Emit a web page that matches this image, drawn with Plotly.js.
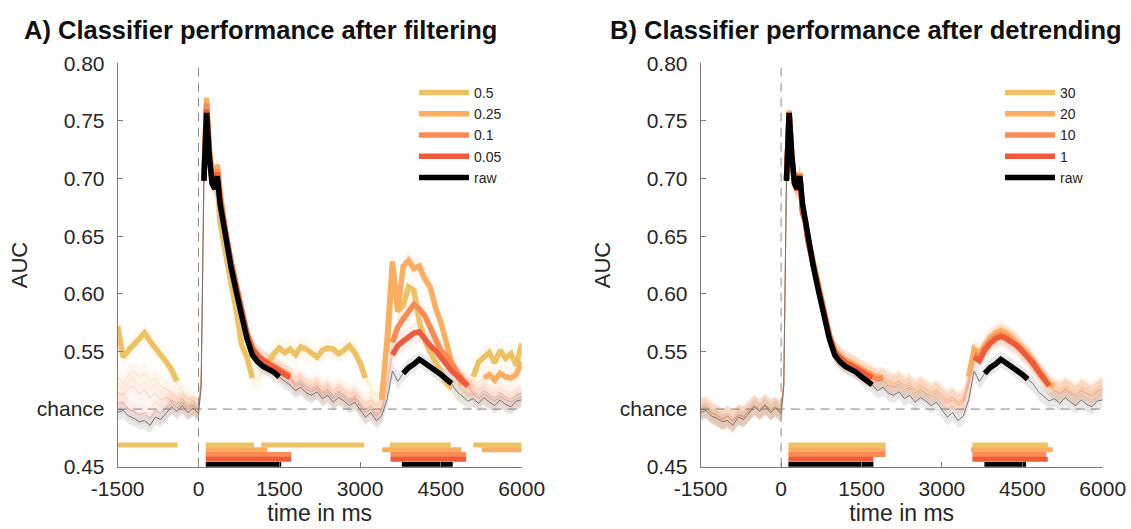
<!DOCTYPE html>
<html><head><meta charset="utf-8">
<script src="https://cdn.plot.ly/plotly-3.0.1.min.js"></script>
<style>html,body{margin:0;padding:0;background:#fff}#chart{width:1131px;height:529px}</style>
</head><body><div id="chart"></div>
<script>
// ---------- data ----------
const timeMs = [-1500,-1400,-1300,-1200,-1100,-1000,-900,-800,-700,-600,-500,-400,-300,-200,-100,0,
  50,100,150,200,250,300,350,400,450,500,
  600,700,800,900,1000,1100,1200,1300,1400,1500,
  1600,1700,1800,1900,2000,2100,2200,2300,2400,2500,
  2600,2700,2800,2900,3000,3100,3200,3300,3400,3500,
  3600,3700,3800,3900,4000,4100,4200,4300,4400,4500,
  4600,4700,4800,4900,5000,5100,5200,5300,5400,5500,
  5600,5700,5800,5900,6000];

const rawAUC = [0.497,0.499,0.494,0.492,0.489,0.490,0.486,0.493,0.491,0.497,0.502,0.498,0.503,0.497,0.501,0.496,
  0.520,0.698,0.757,0.720,0.696,0.691,0.702,0.678,0.664,0.648,
  0.624,0.602,0.580,0.561,0.547,0.541,0.537,0.535,0.532,0.528,
  0.524,0.521,0.516,0.519,0.514,0.512,0.515,0.509,0.512,0.506,
  0.510,0.507,0.503,0.506,0.499,0.493,0.497,0.490,0.494,0.508,
  0.533,0.524,0.531,0.536,0.539,0.543,0.540,0.537,0.533,0.530,
  0.526,0.522,0.515,0.511,0.507,0.509,0.505,0.510,0.506,0.503,
  0.508,0.504,0.502,0.507,0.508];

const filt050 = [0.572,0.545,0.551,0.556,0.560,0.566,0.559,0.552,0.547,0.541,0.534,0.524,0.516,0.510,0.507,0.503,
  0.530,0.700,0.762,0.722,0.700,0.697,0.695,0.662,0.648,0.636,
  0.610,0.586,0.556,0.545,0.527,0.524,0.536,0.541,0.548,0.553,
  0.549,0.552,0.547,0.554,0.552,0.548,0.545,0.551,0.553,0.552,
  0.548,0.551,0.555,0.549,0.540,0.527,0.518,0.512,0.515,0.550,
  0.622,0.585,0.590,0.606,0.603,0.576,0.560,0.550,0.541,0.531,
  0.523,0.518,0.515,0.512,0.518,0.528,0.541,0.545,0.549,0.540,
  0.551,0.544,0.548,0.538,0.557];

const filt025 = [0.528,0.522,0.530,0.533,0.527,0.531,0.524,0.527,0.520,0.518,0.514,0.510,0.508,0.505,0.503,0.500,
  0.530,0.702,0.770,0.728,0.705,0.700,0.712,0.690,0.668,0.652,
  0.628,0.606,0.583,0.565,0.552,0.545,0.541,0.538,0.536,0.533,
  0.530,0.528,0.524,0.527,0.522,0.520,0.523,0.518,0.521,0.515,
  0.519,0.516,0.512,0.515,0.509,0.505,0.508,0.503,0.508,0.560,
  0.628,0.585,0.624,0.629,0.622,0.624,0.613,0.606,0.588,0.575,
  0.558,0.540,0.530,0.521,0.518,0.520,0.523,0.527,0.530,0.525,
  0.531,0.528,0.527,0.530,0.541];

const filt010 = [0.515,0.512,0.518,0.520,0.513,0.517,0.510,0.514,0.508,0.510,0.507,0.505,0.506,0.502,0.504,0.500,
  0.525,0.700,0.765,0.724,0.702,0.696,0.708,0.684,0.668,0.653,
  0.629,0.607,0.585,0.566,0.553,0.547,0.543,0.540,0.538,0.535,
  0.532,0.529,0.522,0.524,0.519,0.517,0.520,0.514,0.517,0.511,
  0.515,0.512,0.508,0.511,0.505,0.500,0.503,0.497,0.501,0.525,
  0.558,0.571,0.578,0.584,0.591,0.587,0.581,0.571,0.560,0.551,
  0.546,0.540,0.532,0.526,0.520,0.516,0.512,0.516,0.513,0.510,
  0.514,0.511,0.509,0.512,0.514];

const filt005 = [0.505,0.506,0.500,0.498,0.495,0.497,0.492,0.499,0.496,0.501,0.505,0.501,0.505,0.500,0.503,0.499,
  0.520,0.699,0.760,0.722,0.699,0.694,0.705,0.682,0.667,0.652,
  0.628,0.606,0.584,0.565,0.552,0.546,0.542,0.539,0.537,0.533,
  0.530,0.527,0.520,0.522,0.517,0.515,0.518,0.512,0.515,0.509,
  0.513,0.510,0.506,0.509,0.503,0.497,0.500,0.494,0.498,0.518,
  0.547,0.555,0.559,0.562,0.566,0.567,0.561,0.555,0.551,0.545,
  0.539,0.533,0.529,0.524,0.520,0.513,0.509,0.513,0.510,0.507,
  0.511,0.508,0.506,0.509,0.511];

const det30 = [0.503,0.500,0.496,0.493,0.491,0.495,0.489,0.496,0.493,0.499,0.503,0.500,0.505,0.499,0.503,0.498,
  0.520,0.699,0.758,0.719,0.695,0.691,0.705,0.672,0.665,0.648,
  0.626,0.604,0.583,0.564,0.551,0.545,0.542,0.540,0.537,0.534,
  0.531,0.529,0.527,0.528,0.524,0.522,0.525,0.520,0.522,0.517,
  0.520,0.518,0.514,0.517,0.512,0.508,0.511,0.506,0.509,0.525,
  0.550,0.547,0.554,0.560,0.564,0.566,0.564,0.561,0.557,0.552,
  0.547,0.541,0.534,0.527,0.520,0.518,0.515,0.519,0.516,0.513,
  0.518,0.515,0.513,0.517,0.519];

const det20 = [0.501,0.503,0.498,0.495,0.490,0.493,0.491,0.494,0.495,0.497,0.504,0.499,0.503,0.501,0.500,0.499,
  0.522,0.700,0.759,0.720,0.697,0.692,0.704,0.673,0.664,0.649,
  0.627,0.605,0.584,0.565,0.552,0.546,0.543,0.541,0.538,0.535,
  0.532,0.530,0.528,0.527,0.525,0.523,0.524,0.521,0.523,0.518,
  0.521,0.517,0.515,0.516,0.513,0.509,0.510,0.507,0.508,0.528,
  0.552,0.548,0.556,0.562,0.566,0.568,0.566,0.562,0.558,0.553,
  0.548,0.542,0.535,0.529,0.522,0.520,0.517,0.520,0.518,0.515,
  0.519,0.517,0.515,0.518,0.521];

const det10 = [0.499,0.501,0.497,0.494,0.492,0.494,0.490,0.495,0.494,0.498,0.502,0.500,0.504,0.500,0.502,0.497,
  0.521,0.699,0.757,0.719,0.696,0.690,0.704,0.671,0.664,0.647,
  0.625,0.604,0.582,0.564,0.550,0.545,0.541,0.539,0.536,0.533,
  0.530,0.528,0.526,0.527,0.523,0.521,0.524,0.519,0.521,0.516,
  0.519,0.516,0.513,0.516,0.511,0.507,0.510,0.505,0.508,0.524,
  0.548,0.545,0.553,0.559,0.563,0.565,0.563,0.559,0.556,0.551,
  0.545,0.539,0.533,0.526,0.519,0.517,0.514,0.518,0.515,0.512,
  0.517,0.514,0.512,0.516,0.518];

const det1 = [0.500,0.502,0.497,0.495,0.491,0.494,0.489,0.495,0.493,0.499,0.503,0.499,0.504,0.499,0.502,0.497,
  0.521,0.699,0.757,0.718,0.695,0.690,0.703,0.670,0.663,0.646,
  0.624,0.603,0.581,0.563,0.549,0.544,0.540,0.538,0.535,0.532,
  0.529,0.527,0.524,0.525,0.521,0.519,0.522,0.517,0.519,0.514,
  0.517,0.514,0.511,0.514,0.509,0.505,0.508,0.503,0.506,0.521,
  0.545,0.542,0.551,0.557,0.561,0.563,0.561,0.558,0.555,0.550,
  0.545,0.540,0.533,0.526,0.520,0.516,0.513,0.517,0.514,0.511,
  0.516,0.513,0.511,0.515,0.517];

// significant time windows (ms)
const sigFilt050 = [[-1500,-390],[135,1030],[1165,3075],[3550,4685],[5100,6000]];
const sigFilt025 = [[135,1280],[3410,4875],[5260,6000]];
const sigFilt010 = [[135,1720],[3565,4970]];
const sigFilt005 = [[135,1720],[3565,4970]];
const sigRawA    = [[135,1535],[3775,4720]];
const sigDet30 = [[136,1949],[3569,4976]];
const sigDet20 = [[136,1949],[3539,5069]];
const sigDet10 = [[136,1949],[3569,4945]];
const sigDet1  = [[136,1722],[3569,4976]];
const sigRawB  = [[136,1722],[3793,4571]];

const semRaw = 0.007, semCond = 0.009;
const xTicks = [-1500,0,1500,3000,4500,6000];
const yTickVals = [0.45,0.50,0.55,0.60,0.65,0.70,0.75,0.80];
const yTickText = ['0.45','chance','0.55','0.60','0.65','0.70','0.75','0.80'];
const namesA = ['0.5','0.25','0.1','0.05','raw'];
const namesB = ['30','20','10','1','raw'];

// ---------- style ----------
const colors = ['#EDC264','#FDAD5F','#F98C55','#EE5A3C','#000000'];
const rgb = [[237,194,100],[253,173,95],[249,140,85],[238,90,60],[120,120,120]];
const barRows = [0.4688,0.4648,0.4606,0.4564,0.4519];
const FONT = 'Liberation Sans, Arial, Helvetica, sans-serif';

function inWin(t, wins){ return wins.some(w => t >= w[0]-50 && t <= w[1]+50); }

function panel(seriesList, sigList, names, xa, ya, leg){
  const bands=[], thins=[], thicks=[], bars=[];
  seriesList.forEach((vals,k)=>{
    const isRaw = (k===4);
    const sem = isRaw ? semRaw : semCond;
    const c = rgb[k];
    bands.push({x:timeMs, y:vals.map(v=>v-sem), xaxis:xa, yaxis:ya, type:'scatter', mode:'lines',
      line:{width:0}, showlegend:false, hoverinfo:'skip'});
    bands.push({x:timeMs, y:vals.map(v=>v+sem), xaxis:xa, yaxis:ya, type:'scatter', mode:'lines',
      line:{width:0}, fill:'tonexty',
      fillcolor: isRaw ? 'rgba(150,150,150,0.22)' : `rgba(${c[0]},${c[1]},${c[2]},0.10)`,
      showlegend:false, hoverinfo:'skip'});
    thins.push({x:timeMs, y:vals, xaxis:xa, yaxis:ya, type:'scatter', mode:'lines',
      line:{width:1, color: isRaw ? 'rgba(110,110,110,0.9)' : `rgba(${c[0]},${c[1]},${c[2]},0.4)`},
      showlegend:false, hoverinfo:'skip'});
    thicks.push({x:timeMs, y:vals.map((v,i)=> inWin(timeMs[i], sigList[k]) ? v : null),
      xaxis:xa, yaxis:ya, type:'scatter', mode:'lines', connectgaps:false,
      line:{width:5.5, color:colors[k]}, name:names[k], legend:leg, legendgroup:leg+k, showlegend:true});
    const bx=[], by=[];
    sigList[k].forEach(w=>{ bx.push(w[0],w[1],null); by.push(barRows[k],barRows[k],null); });
    bars.push({x:bx, y:by, xaxis:xa, yaxis:ya, type:'scatter', mode:'lines',
      line:{width:5, color:colors[k]}, showlegend:false, hoverinfo:'skip'});
  });
  return bands.concat(thins, thicks, bars);
}

const data = panel([filt050,filt025,filt010,filt005,rawAUC],
                   [sigFilt050,sigFilt025,sigFilt010,sigFilt005,sigRawA], namesA, 'x','y','legend')
  .concat(panel([det30,det20,det10,det1,rawAUC],
                [sigDet30,sigDet20,sigDet10,sigDet1,sigRawB], namesB, 'x2','y2','legend2'));

function xAxis(dom, anchor){
  return {domain:dom, anchor:anchor, range:[-1500,6000], tickvals:xTicks, ticktext:xTicks.map(String),
    ticks:'inside', ticklen:5, tickcolor:'#7a7a7a', showline:true, linecolor:'#7a7a7a', linewidth:1,
    showgrid:false, zeroline:false, ticklabelstandoff:3,
    tickfont:{family:FONT, size:21, color:'#262626'},
    title:{text:'time in ms', font:{family:FONT, size:23, color:'#262626'}, standoff:3}};
}
function yAxis(dom, anchor){
  return {domain:dom, anchor:anchor, range:[0.45,0.80], tickvals:yTickVals, ticktext:yTickText,
    ticks:'inside', ticklen:5, tickcolor:'#7a7a7a', showline:true, linecolor:'#7a7a7a', linewidth:1,
    showgrid:false, zeroline:false, ticklabelstandoff:8,
    tickfont:{family:FONT, size:21, color:'#262626'},
    title:{text:'AUC', font:{family:FONT, size:22, color:'#262626'}, standoff:3}};
}
const yDom = [(529-466.7)/529, (529-63.3)/529];

function refLines(xr, yr){
  return [
    {type:'line', xref:xr, yref:yr, x0:-1500, x1:6000, y0:0.5, y1:0.5,
     line:{color:'#7f7f7f', width:1, dash:'9px,6px'}},
    {type:'line', xref:xr, yref:yr, x0:0, x1:0, y0:0.45, y1:0.80,
     line:{color:'#8a8a8a', width:1, dash:'9px,6px'}}
  ];
}

function legendCfg(xpx){
  return {x:xpx/1131, y:1-77/529, xanchor:'left', yanchor:'top', bgcolor:'rgba(0,0,0,0)',
    font:{family:FONT, size:14, color:'#262626'}, traceorder:'grouped', tracegroupgap:0,
    itemwidth:50, borderwidth:0};
}

const layout = {
  width:1131, height:529, margin:{l:0,r:0,t:0,b:0}, paper_bgcolor:'#fff', plot_bgcolor:'#fff',
  showlegend:true,
  xaxis:xAxis([117.7/1131, 521.7/1131],'y'),
  yaxis:yAxis(yDom,'x'),
  xaxis2:xAxis([700.7/1131, 1102.7/1131],'y2'),
  yaxis2:yAxis(yDom,'x2'),
  legend:legendCfg(414),
  legend2:legendCfg(1000),
  shapes: refLines('x','y').concat(refLines('x2','y2')),
  annotations:[
    {text:'<b>A) Classifier performance after filtering</b>', xref:'paper', yref:'paper',
     x:22/1131, y:1-30/529, xanchor:'left', yanchor:'middle', showarrow:false,
     font:{family:FONT, size:25.5, color:'#111'}},
    {text:'<b>B) Classifier performance after detrending</b>', xref:'paper', yref:'paper',
     x:608/1131, y:1-30/529, xanchor:'left', yanchor:'middle', showarrow:false,
     font:{family:FONT, size:25.5, color:'#111'}}
  ]
};

Plotly.newPlot('chart', data, layout, {displayModeBar:false, staticPlot:true});
</script>
</body></html>
